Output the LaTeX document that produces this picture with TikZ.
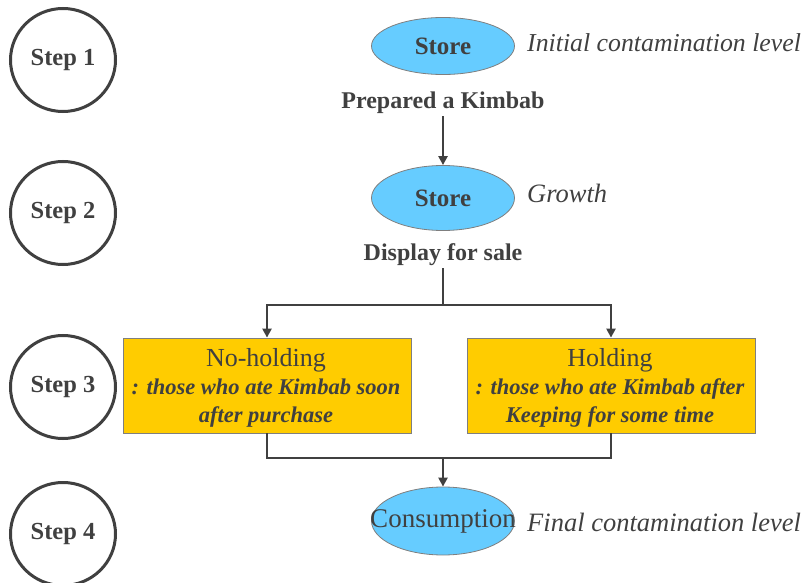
\documentclass[tikz,border=0pt]{standalone}
\usepackage{fontspec}
\setmainfont{Liberation Serif}
\usetikzlibrary{shapes.geometric,arrows.meta}
\definecolor{ink}{HTML}{404040}
\definecolor{skyfill}{HTML}{66CCFF}
\definecolor{goldfill}{HTML}{FFCC00}
\definecolor{rim}{HTML}{7F7F7F}
\begin{document}
\begin{tikzpicture}[x=1pt,y=-1pt,
  stepcircle/.style={ellipse,draw=ink,line width=3pt,minimum width=105pt,minimum height=103pt,
    text=ink,font=\fontsize{24.5}{28}\selectfont\bfseries,inner sep=0pt},
  stage/.style={ellipse,draw=rim,fill=skyfill,line width=0.8pt,minimum width=143pt,inner sep=0pt},
  stagetext/.style={text=ink,inner sep=0pt},
  caption/.style={text=ink,font=\fontsize{24}{28}\selectfont\bfseries,inner sep=2pt},
  note/.style={text=ink,font=\fontsize{26.5}{30}\selectfont\itshape,anchor=west,inner sep=0pt},
  group/.style={rectangle,draw=rim,fill=goldfill,line width=0.8pt,minimum width=288pt,
    minimum height=95pt,inner sep=0pt},
  grouptext/.style={text=ink,align=center,inner sep=0pt,font=\fontsize{22.5}{28}\selectfont},
  link/.style={draw=ink,line width=2.7pt},
  arrow/.style={link,-{Triangle[length=9pt,width=9pt]}}]
\useasboundingbox (0,0) rectangle (804,583);

% step markers on the left
\node[stepcircle] (s1) at (63,60) {Step 1};
\node[stepcircle] (s2) at (63,213) {Step 2};
\node[stepcircle] (s3) at (63,387) {Step 3};
\node[stepcircle] (s4) at (63,534) {Step 4};

% stages
\node[stage,minimum height=57pt,
  label={[stagetext,font=\fontsize{25}{28}\selectfont\bfseries]center:Store}] (store1) at (443,46) {};
\node[stage,minimum height=65pt,
  label={[stagetext,font=\fontsize{25}{28}\selectfont\bfseries]center:Store}] (store2) at (443,198) {};
\node[stage,minimum height=68pt,
  label={[stagetext,font=\fontsize{27}{30}\selectfont]center:Consumption}] (cons) at (443,521) {};

\node[note,font=\fontsize{25.8}{30}\selectfont\itshape] (n1) at (527,43) {Initial contamination level};
\node[note] (n2) at (527,193) {Growth};
\node[note] (n3) at (527,522) {Final contamination level};

\node[caption] (prep) at (443,103) {Prepared a Kimbab};
\node[caption] (disp) at (443,255) {Display for sale};

% consumer groups
\node[group] (nohold) at (267,385.5) {};
\node[grouptext] (noholdtext) at (266,388)
  {{\fontsize{26}{28}\selectfont No-holding}\\
   {\bfseries\itshape : those who ate Kimbab soon}\\
   {\bfseries\itshape after purchase}};
\node[group] (hold) at (611,385.5) {};
\node[grouptext] (holdtext) at (610,388)
  {{\fontsize{26}{28}\selectfont Holding}\\
   {\bfseries\itshape : those who ate Kimbab after}\\
   {\bfseries\itshape Keeping for some time}};

\coordinate (split) at (443,305);
\coordinate (merge) at (443,458);

% flow
\draw[arrow] (prep.south) -- (store2.north);
\draw[link] (disp.south) -- (split);
\draw[arrow] (split) -| (nohold.north);
\draw[arrow] (split) -| (hold.north);
\draw[link] (nohold.south) |- (merge);
\draw[link] (hold.south) |- (merge);
\draw[arrow] (merge) -- (cons.north);
\end{tikzpicture}
\end{document}
